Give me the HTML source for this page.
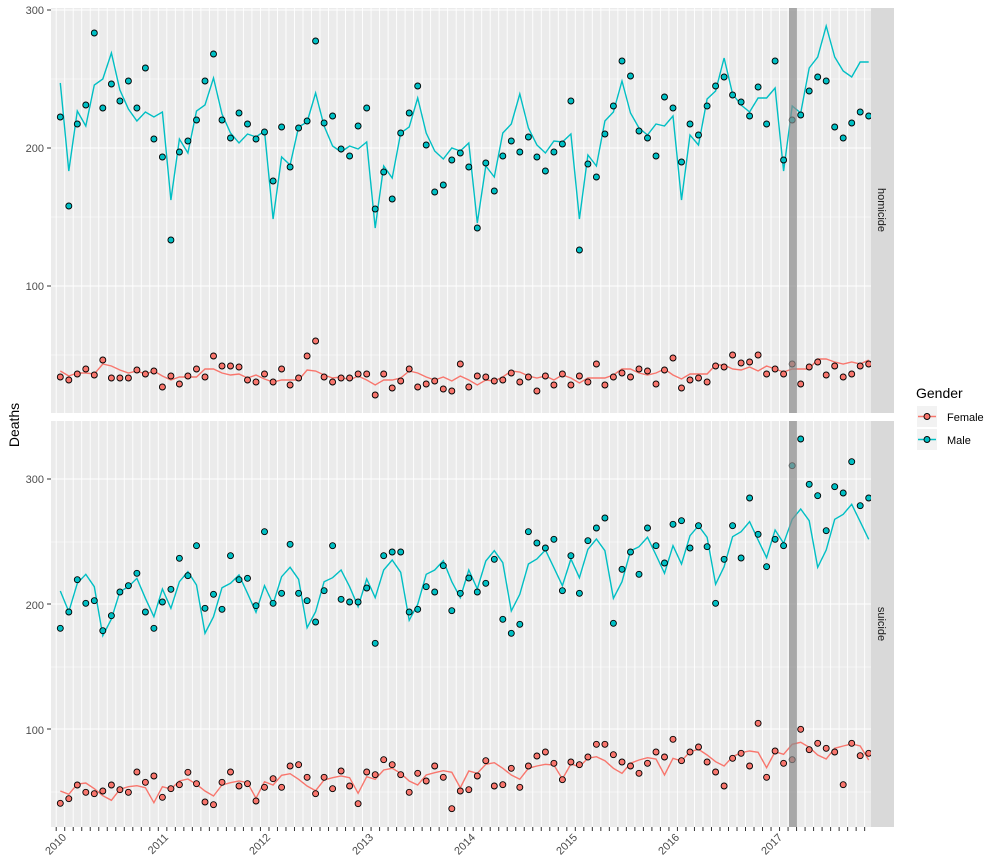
<!DOCTYPE html>
<html><head><meta charset="utf-8">
<style>
html,body{margin:0;padding:0;background:#fff;}
svg{display:block;font-family:"Liberation Sans",Arial,sans-serif;}
</style></head>
<body>
<svg id="s" width="1000" height="868" xmlns="http://www.w3.org/2000/svg">
<rect x="0" y="0" width="1000" height="868" fill="#fff"/>
<rect x="51" y="8" width="820" height="405" fill="#EBEBEB"/>
<rect x="51" y="421" width="820" height="406" fill="#EBEBEB"/>
<g id="grid"></g>
<g id="data"></g>
<rect x="789" y="8" width="8" height="405" fill="#8c8c8c" opacity="0.7"/>
<rect x="789" y="421" width="8" height="406" fill="#8c8c8c" opacity="0.7"/>
<rect x="871" y="8" width="23" height="405" fill="#D9D9D9"/>
<rect x="871" y="421" width="23" height="406" fill="#D9D9D9"/>
<text transform="translate(878,210) rotate(90)" text-anchor="middle" font-size="11" fill="#1a1a1a">homicide</text>
<text transform="translate(878,624) rotate(90)" text-anchor="middle" font-size="11" fill="#1a1a1a">suicide</text>
<g font-size="11" fill="#4d4d4d" text-anchor="end">
<text x="44" y="14">300</text>
<text x="44" y="152">200</text>
<text x="44" y="290">100</text>
<text x="44" y="483">300</text>
<text x="44" y="609">200</text>
<text x="44" y="734">100</text>
</g>
<g stroke="#333" stroke-width="1">
<line x1="47" x2="51" y1="10" y2="10"/><line x1="47" x2="51" y1="148" y2="148"/><line x1="47" x2="51" y1="286" y2="286"/>
<line x1="47" x2="51" y1="479" y2="479"/><line x1="47" x2="51" y1="604" y2="604"/><line x1="47" x2="51" y1="729" y2="729"/>
</g>
<g id="xt"></g>
<g font-size="11" fill="#4d4d4d" text-anchor="end">
<text transform="translate(67,838) rotate(-45)">2010</text>
<text transform="translate(169,838) rotate(-45)">2011</text>
<text transform="translate(271,838) rotate(-45)">2012</text>
<text transform="translate(374,838) rotate(-45)">2013</text>
<text transform="translate(476,838) rotate(-45)">2014</text>
<text transform="translate(578,838) rotate(-45)">2015</text>
<text transform="translate(680,838) rotate(-45)">2016</text>
<text transform="translate(783,838) rotate(-45)">2017</text>
</g>
<text transform="translate(19,425) rotate(-90)" text-anchor="middle" font-size="14" fill="#000">Deaths</text>
<text x="916" y="398" font-size="14" fill="#000">Gender</text>
<rect x="917" y="406" width="20" height="21" fill="#F2F2F2"/>
<rect x="917" y="429" width="20" height="21" fill="#F2F2F2"/>
<line x1="918" x2="936" y1="416.5" y2="416.5" stroke="#F8766D" stroke-width="1.4"/>
<circle cx="927" cy="416.5" r="3" fill="#F8766D" stroke="#000" stroke-width="0.9"/>
<line x1="918" x2="936" y1="439.5" y2="439.5" stroke="#00BFC4" stroke-width="1.4"/>
<circle cx="927" cy="439.5" r="3" fill="#00BFC4" stroke="#000" stroke-width="0.9"/>
<text x="947" y="421" font-size="11" fill="#000">Female</text>
<text x="947" y="444" font-size="11" fill="#000">Male</text>
</svg>
<script>
(function(){
var NS="http://www.w3.org/2000/svg";
function el(p,n,a){var e=document.createElementNS(NS,n);for(var k in a)e.setAttribute(k,a[k]);p.appendChild(e);return e;}
var g=document.getElementById("grid"),d=document.getElementById("data"),xt=document.getElementById("xt");
// horizontal grid
[[8,413,[10,148,286],[79,217,355]],[421,827,[479,604,729],[542,667,792]]].forEach(function(p){
 p[3].forEach(function(y){el(g,"line",{x1:51,x2:871,y1:y,y2:y,stroke:"#fff","stroke-width":0.6});});
 p[2].forEach(function(y){el(g,"line",{x1:51,x2:871,y1:y,y2:y,stroke:"#fff","stroke-width":1.1});});
 for(var i=0;i<96;i++){var x=56.2+8.51*i;el(g,"line",{x1:x,x2:x,y1:p[0],y2:p[1],stroke:"#fff","stroke-width":0.9});}
});
for(var i=0;i<96;i++){var x=56.2+8.51*i;el(xt,"line",{x1:x,x2:x,y1:827,y2:831,stroke:"#333","stroke-width":1});}
function X(i){return 60.3+8.51*i;}
var topM=[117,206,124,105,33,108,84,101,81,108,68,139,157,240,152,141,120,81,54,120,138,113,124,139,132,181,127,167,128,121,41,123,116,149,
156,126,108,209,172,199,133,113,86,145,192,185,160,153,167,228,163,191,156,141,152,137,157,171,152,144,101,250,164,177,134,
106,61,76,131,138,156,97,108,162,124,135,106,86,77,95,102,116,87,124,61,160,120,115,91,77,81,127,138,123,112,116];
var topML=[83,171,111,126,85,79,53,90,109,121,112,117,112,200,139,153,111,105,78,114,133,143,134,137,131,219,157,165,127,122,93,126,146,152,
146,149,142,228,166,178,133,127,98,133,151,159,148,151,143,223,166,177,133,124,94,128,145,153,141,142,134,219,155,166,121,
112,81,113,128,135,124,126,116,200,135,145,99,91,58,94,105,112,98,98,88,171,106,113,68,57,26,57,71,77,62,62];
var topF=[377,380,374,369,375,360,378,378,378,370,374,371,387,376,384,376,369,377,356,366,366,367,380,382,374,382,369,385,378,356,341,377,382,378,
378,374,374,395,374,388,381,369,387,384,381,389,391,364,387,376,377,381,380,373,382,377,391,376,385,374,385,376,382,364,385,
377,373,377,369,371,384,370,358,388,380,378,382,366,367,355,363,362,355,374,369,374,364,384,367,362,375,366,377,374,366,364];
var topFL=[371,376,373,373,374,364,366,370,373,371,374,371,376,380,377,377,377,369,369,373,375,374,378,375,379,382,380,380,380,370,371,375,378,377,
380,376,380,385,380,380,378,371,373,377,380,377,381,376,380,385,380,381,377,371,372,376,378,376,380,375,378,383,378,378,378,
375,369,369,373,375,373,369,375,379,374,374,374,365,365,369,370,367,371,366,369,372,369,369,369,359,359,362,364,362,364,360];
var bM=[640,591,494,565,557,647,602,531,512,475,591,640,561,523,430,482,392,580,538,583,422,494,490,572,350,565,535,388,535,557,621,527,392,553,
561,561,519,685,422,411,411,591,583,515,531,452,587,535,489,531,505,433,613,655,628,350,384,399,373,527,422,535,377,339,309,
625,463,411,478,339,392,444,328,317,399,332,395,565,433,332,429,249,358,455,373,392,152,72,208,242,347,215,234,140,272,249];
var bML=[528,590,505,478,515,662,612,530,515,490,550,605,522,580,500,470,510,655,605,518,505,480,535,592,512,567,485,457,493,638,590,500,488,465,
515,575,492,548,465,435,472,616,568,478,465,437,500,548,465,522,438,407,443,588,538,447,432,405,458,512,432,488,403,372,407,
550,500,408,395,367,420,475,392,447,362,332,367,508,455,365,350,320,375,428,345,385,313,282,317,457,405,313,298,268,320,373];
var bF=[1165,1151,1110,1132,1136,1128,1110,1124,1132,1071,1102,1083,1147,1121,1109,1072,1106,1161,1169,1102,1071,1113,1106,1158,1117,1091,1117,1053,1049,1087,1136,1087,1121,1068,
1113,1166,1071,1079,1034,1049,1079,1132,1075,1098,1053,1087,1181,1128,1124,1083,1037,1113,1109,1060,1117,1053,1023,1011,1045,1094,1041,1049,1026,988,988,
1019,1041,1053,1075,1045,1011,1026,973,1037,1011,996,1041,1071,1113,1030,1015,1053,925,1087,1008,1045,1034,943,1004,985,1000,1011,1109,985,1022,1015];
var bFL=[1128,1138,1107,1104,1121,1142,1156,1123,1115,1112,1118,1163,1115,1122,1098,1092,1108,1128,1143,1110,1103,1098,1103,1150,1100,1110,1081,1076,1093,1113,1127,1095,1088,1083,
1088,1135,1085,1093,1065,1060,1075,1098,1110,1080,1073,1067,1072,1118,1068,1075,1048,1043,1060,1080,1093,1060,1053,1048,1050,1092,1047,1055,1030,1025,1037,
1060,1075,1045,1035,1028,1032,1080,1030,1038,1010,1003,1020,1040,1053,1025,1013,1008,1012,1058,1010,1018,988,982,997,1020,1032,1000,993,987,993,1035];
function conv(a){return a.map(function(z){return 415+z/3;});}
bM=conv(bM);bML=conv(bML);bF=conv(bF);bFL=conv(bFL);
function line(a,c){el(d,"polyline",{points:a.map(function(y,i){return X(i).toFixed(1)+","+y.toFixed(1);}).join(" "),fill:"none",stroke:c,"stroke-width":1.4});}
function pts(a,c){a.forEach(function(y,i){el(d,"circle",{cx:X(i).toFixed(1),cy:y.toFixed(1),r:3,fill:c,stroke:"#000","stroke-width":0.9});});}
var R="#F8766D",T="#00BFC4";
line(topFL,R);line(topML,T);line(bFL,R);line(bML,T);
pts(topF,R);pts(topM,T);pts(bF,R);pts(bM,T);
})();
</script>
</body></html>
